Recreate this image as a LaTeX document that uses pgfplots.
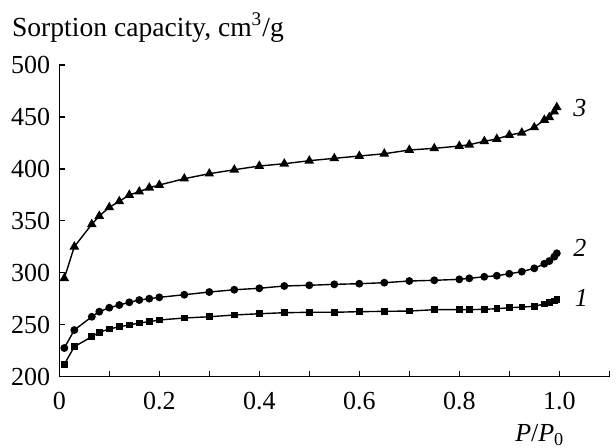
\documentclass[border=0pt]{standalone}
\usepackage{fontspec}
\setmainfont{Liberation Serif}
\usepackage{pgfplots}
\pgfplotsset{compat=1.18}
\begin{document}
\fontsize{13}{15}\selectfont
\begin{tikzpicture}
\path[use as bounding box] (-29.65pt,-35.15pt) rectangle (278.35pt,188.35pt);
\begin{axis}[
  scale only axis, width=275pt, height=155.85pt,
  xmin=0, xmax=1.1, ymin=200, ymax=500,
  axis x line*=bottom, axis y line*=left,
  axis line style={line width=0.7pt},
  tick align=inside, major tick length=3pt,
  tick style={line width=0.6pt, black},
  xtick={0,0.1,0.2,0.3,0.4,0.5,0.6,0.7,0.8,0.9,1.0,1.1},
  xticklabels={0,,0.2,,0.4,,0.6,,0.8,,1.0,},
  ytick={200,250,300,350,400,450,500},
  yticklabels={200,250,300,350,400,450,500},
  xticklabel style={yshift=-3pt},
  /pgf/number format/assume math mode=true,
  every tick label/.append style={font=\fontsize{13}{15}\selectfont},
  clip=false,
]
\addplot[black, line width=0.7pt, mark=square*, mark size=1.3pt] coordinates {
(0.01,211.9)(0.03,228.9)(0.065,238.5)(0.08,242.8)(0.10,245.9)(0.12,248.1)(0.14,249.8)(0.16,251.7)(0.18,252.9)(0.20,254.6)(0.25,256.5)(0.30,257.7)(0.35,259.4)(0.40,260.6)(0.45,261.6)(0.50,262.0)(0.55,262.0)(0.60,262.6)(0.65,262.9)(0.70,263.2)(0.75,264.5)(0.80,264.5)(0.82,264.5)(0.85,264.9)(0.875,265.4)(0.90,266.4)(0.925,267.0)(0.95,267.8)(0.97,270.0)(0.98,271.4)(0.99,273.0)(0.995,274.5)
};
\addplot[black, line width=0.7pt, mark=*, mark size=1.6pt] coordinates {
(0.01,227.6)(0.03,244.9)(0.065,257.7)(0.08,262.6)(0.10,266.4)(0.12,269.0)(0.14,271.6)(0.16,273.8)(0.18,275.1)(0.20,276.4)(0.25,278.9)(0.30,281.5)(0.35,283.7)(0.40,285.1)(0.45,287.3)(0.50,288.0)(0.55,288.9)(0.60,289.5)(0.65,290.5)(0.70,292.1)(0.75,292.8)(0.80,293.7)(0.82,294.7)(0.85,296.2)(0.875,297.2)(0.90,299.1)(0.925,301.1)(0.95,304.3)(0.97,308.7)(0.98,311.3)(0.99,315.5)(0.995,318.8)
};
\addplot[black, line width=0.7pt, mark=triangle*, mark size=2.1pt] coordinates {
(0.01,294.7)(0.03,325.1)(0.065,346.7)(0.08,354.7)(0.10,363.0)(0.12,368.8)(0.14,374.9)(0.16,378.1)(0.18,381.9)(0.20,384.5)(0.25,390.6)(0.30,395.4)(0.35,399.2)(0.40,402.8)(0.45,405.0)(0.50,407.9)(0.55,410.2)(0.60,412.4)(0.65,414.6)(0.70,418.2)(0.75,419.8)(0.80,422.0)(0.82,423.3)(0.85,426.6)(0.875,428.8)(0.90,432.6)(0.925,434.8)(0.95,440.0)(0.97,447.1)(0.98,449.7)(0.99,455.1)(0.995,459.3)
};
\node at (axis cs:1.041,458.6) {\textit{3}};
\node at (axis cs:1.041,323.9) {\textit{2}};
\node at (axis cs:1.044,275.5) {\textit{1}};
\node[anchor=base] at (axis cs:0.961,200) [yshift=-32.5pt] {\textit{P}/\textit{P}\textsubscript{0}};
\node[anchor=base west, inner sep=0pt, font=\fontsize{13.8}{16}\selectfont] at (axis cs:0,500) [xshift=-23.8pt, yshift=14.5pt] {Sorption capacity, cm\textsuperscript{3}/g};
\end{axis}
\end{tikzpicture}
\end{document}
